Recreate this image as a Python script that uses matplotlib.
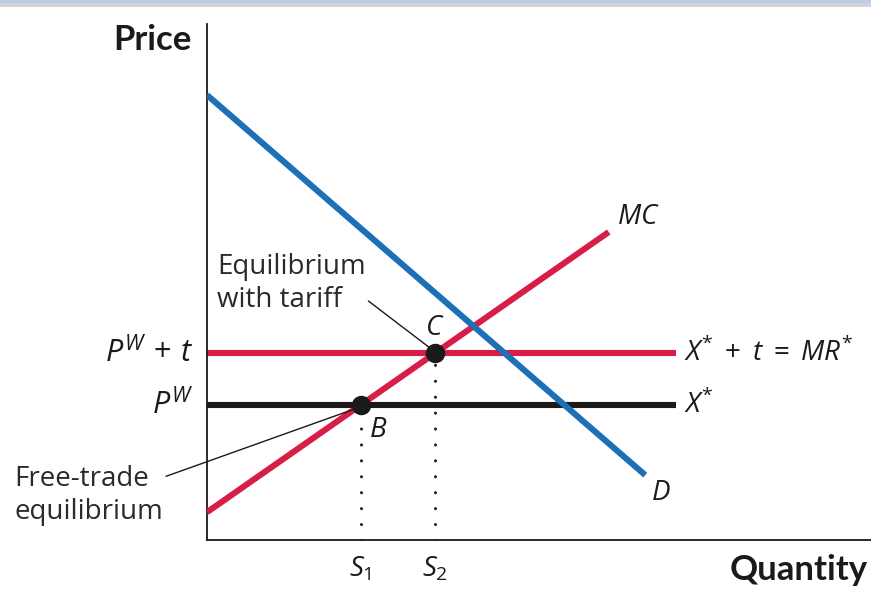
import matplotlib
matplotlib.use("Agg")
import matplotlib.pyplot as plt
from matplotlib.patches import Rectangle

# ---- data (arbitrary economic units) ----
demand_q = [0.0, 6.60]
demand_p = [8.64, 1.26]
mc_q = [0.0, 6.05]
mc_p = [0.54, 5.98]
p_world = 2.62
p_world_tariff = 3.63
line_end_q = 7.06

# equilibrium points on MC at each price
mc_slope = (mc_p[1] - mc_p[0]) / (mc_q[1] - mc_q[0])
q_B = (p_world - mc_p[0]) / mc_slope
q_C = (p_world_tariff - mc_p[0]) / mc_slope

RED = "#d81e46"
BLUE = "#1d6fb8"
BLACK = "#1a1a1a"

plt.rcParams["mathtext.fontset"] = "custom"
plt.rcParams["mathtext.rm"] = "Open Sans"
plt.rcParams["mathtext.it"] = "Open Sans:italic"
plt.rcParams["mathtext.bf"] = "Open Sans:bold"
plt.rcParams["font.family"] = ["Open Sans", "DejaVu Sans"]

W, H = 871, 589
fig = plt.figure(figsize=(W / 100, H / 100), dpi=100)
fig.patch.set_facecolor("white")

# top band
fig.patches.append(Rectangle((0, 1 - 3 / H), 1, 3 / H, transform=fig.transFigure,
                             facecolor="#b9cde6", edgecolor="none"))
fig.patches.append(Rectangle((0, 1 - 7 / H), 1, 4 / H, transform=fig.transFigure,
                             facecolor="#d4d4d4", edgecolor="none"))

left, right, top, bottom = 207, 871, 24, 540
ax = fig.add_axes([left / W, (H - bottom) / H, (right - left) / W, (bottom - top) / H])
ax.set_xlim(0, (right - left) / 66.4)
ax.set_ylim(0, (bottom - top) / 51.5)
for s in ["top", "right"]:
    ax.spines[s].set_visible(False)
for s in ["left", "bottom"]:
    ax.spines[s].set_linewidth(1.3)
    ax.spines[s].set_color(BLACK)
ax.set_xticks([])
ax.set_yticks([])
ax.patch.set_alpha(0)

# dotted guide lines
dot_kw = dict(color=BLACK, lw=2.2, dashes=[0.01, 5.2], dash_capstyle="round", zorder=1)
ax.plot([q_B, q_B], [0, p_world], **dot_kw)
ax.plot([q_C, q_C], [0, p_world_tariff], **dot_kw)

lw = 4.4
ax.plot([0, line_end_q], [p_world, p_world], color=BLACK, lw=lw, solid_capstyle="butt", zorder=2)
ax.plot([0, line_end_q], [p_world_tariff, p_world_tariff], color=RED, lw=lw,
        solid_capstyle="butt", zorder=2)
ax.plot(mc_q, mc_p, color=RED, lw=lw, solid_capstyle="butt", zorder=3)
ax.plot(demand_q, demand_p, color=BLUE, lw=lw, solid_capstyle="butt", zorder=4)

ax.plot([q_B, q_C], [p_world, p_world_tariff], "o", color=BLACK, ms=13, zorder=5)

fs = 20
# curve labels
ax.text(mc_q[1] + 0.12, mc_p[1] + 0.02, r"$MC$", fontsize=fs, ha="left", va="bottom", color=BLACK)
ax.text(demand_q[1] + 0.08, demand_p[1] - 0.08, r"$D$", fontsize=fs, ha="left", va="top", color=BLACK)
ax.text(line_end_q + 0.12, p_world_tariff, r"$X^{*}\;+\;t\;=\;MR^{*}$", fontsize=fs,
        ha="left", va="center", color=BLACK)
ax.text(line_end_q + 0.12, p_world, r"$X^{*}$", fontsize=fs, ha="left", va="center", color=BLACK)
ax.text(q_C, p_world_tariff + 0.22, r"$C$", fontsize=fs, ha="center", va="bottom", color=BLACK)
ax.text(q_B + 0.12, p_world - 0.22, r"$B$", fontsize=fs, ha="left", va="top", color=BLACK)

# price labels on y axis
ax.text(-0.2, p_world_tariff, r"$P^{W}\,+\,t$", fontsize=22, ha="right", va="center",
        color=BLACK, clip_on=False)
ax.text(-0.2, p_world, r"$P^{W}$", fontsize=22, ha="right", va="center",
        color=BLACK, clip_on=False)

# quantity labels
ax.text(q_B, -0.3, r"$S_{\mathrm{1}}$", fontsize=20, ha="center", va="top", color=BLACK, clip_on=False)
ax.text(q_C, -0.3, r"$S_{\mathrm{2}}$", fontsize=20, ha="center", va="top", color=BLACK, clip_on=False)

# axis titles
bold_fam = ["Lato", "DejaVu Sans"]
fig.text(192 / W, 1 - 40 / H, "Price", fontsize=25, fontweight="bold", family=bold_fam,
         ha="right", va="center", color=BLACK)
fig.text(868 / W, 1 - 570 / H, "Quantity", fontsize=25, fontweight="bold", family=bold_fam,
         ha="right", va="center", color=BLACK)

# annotations
ax.annotate("Equilibrium\nwith tariff", xy=(q_C - 0.1, p_world_tariff + 0.12),
            xytext=(0.15, 4.98), fontsize=fs, ha="left", va="center", linespacing=1.25,
            color="#2a2a2a",
            arrowprops=dict(arrowstyle="-", color=BLACK, lw=1.0,
                            shrinkA=0, shrinkB=0, relpos=(1.0, 0.25)))
ax.annotate("Free-trade\nequilibrium", xy=(q_B - 0.1, p_world - 0.08),
            xytext=(-2.9, 0.86), fontsize=fs, ha="left", va="center", linespacing=1.25,
            color="#2a2a2a", annotation_clip=False,
            arrowprops=dict(arrowstyle="-", color=BLACK, lw=1.0,
                            shrinkA=0, shrinkB=0, relpos=(1.0, 0.8)))

fig.savefig("out.png", dpi=100, facecolor="white")
